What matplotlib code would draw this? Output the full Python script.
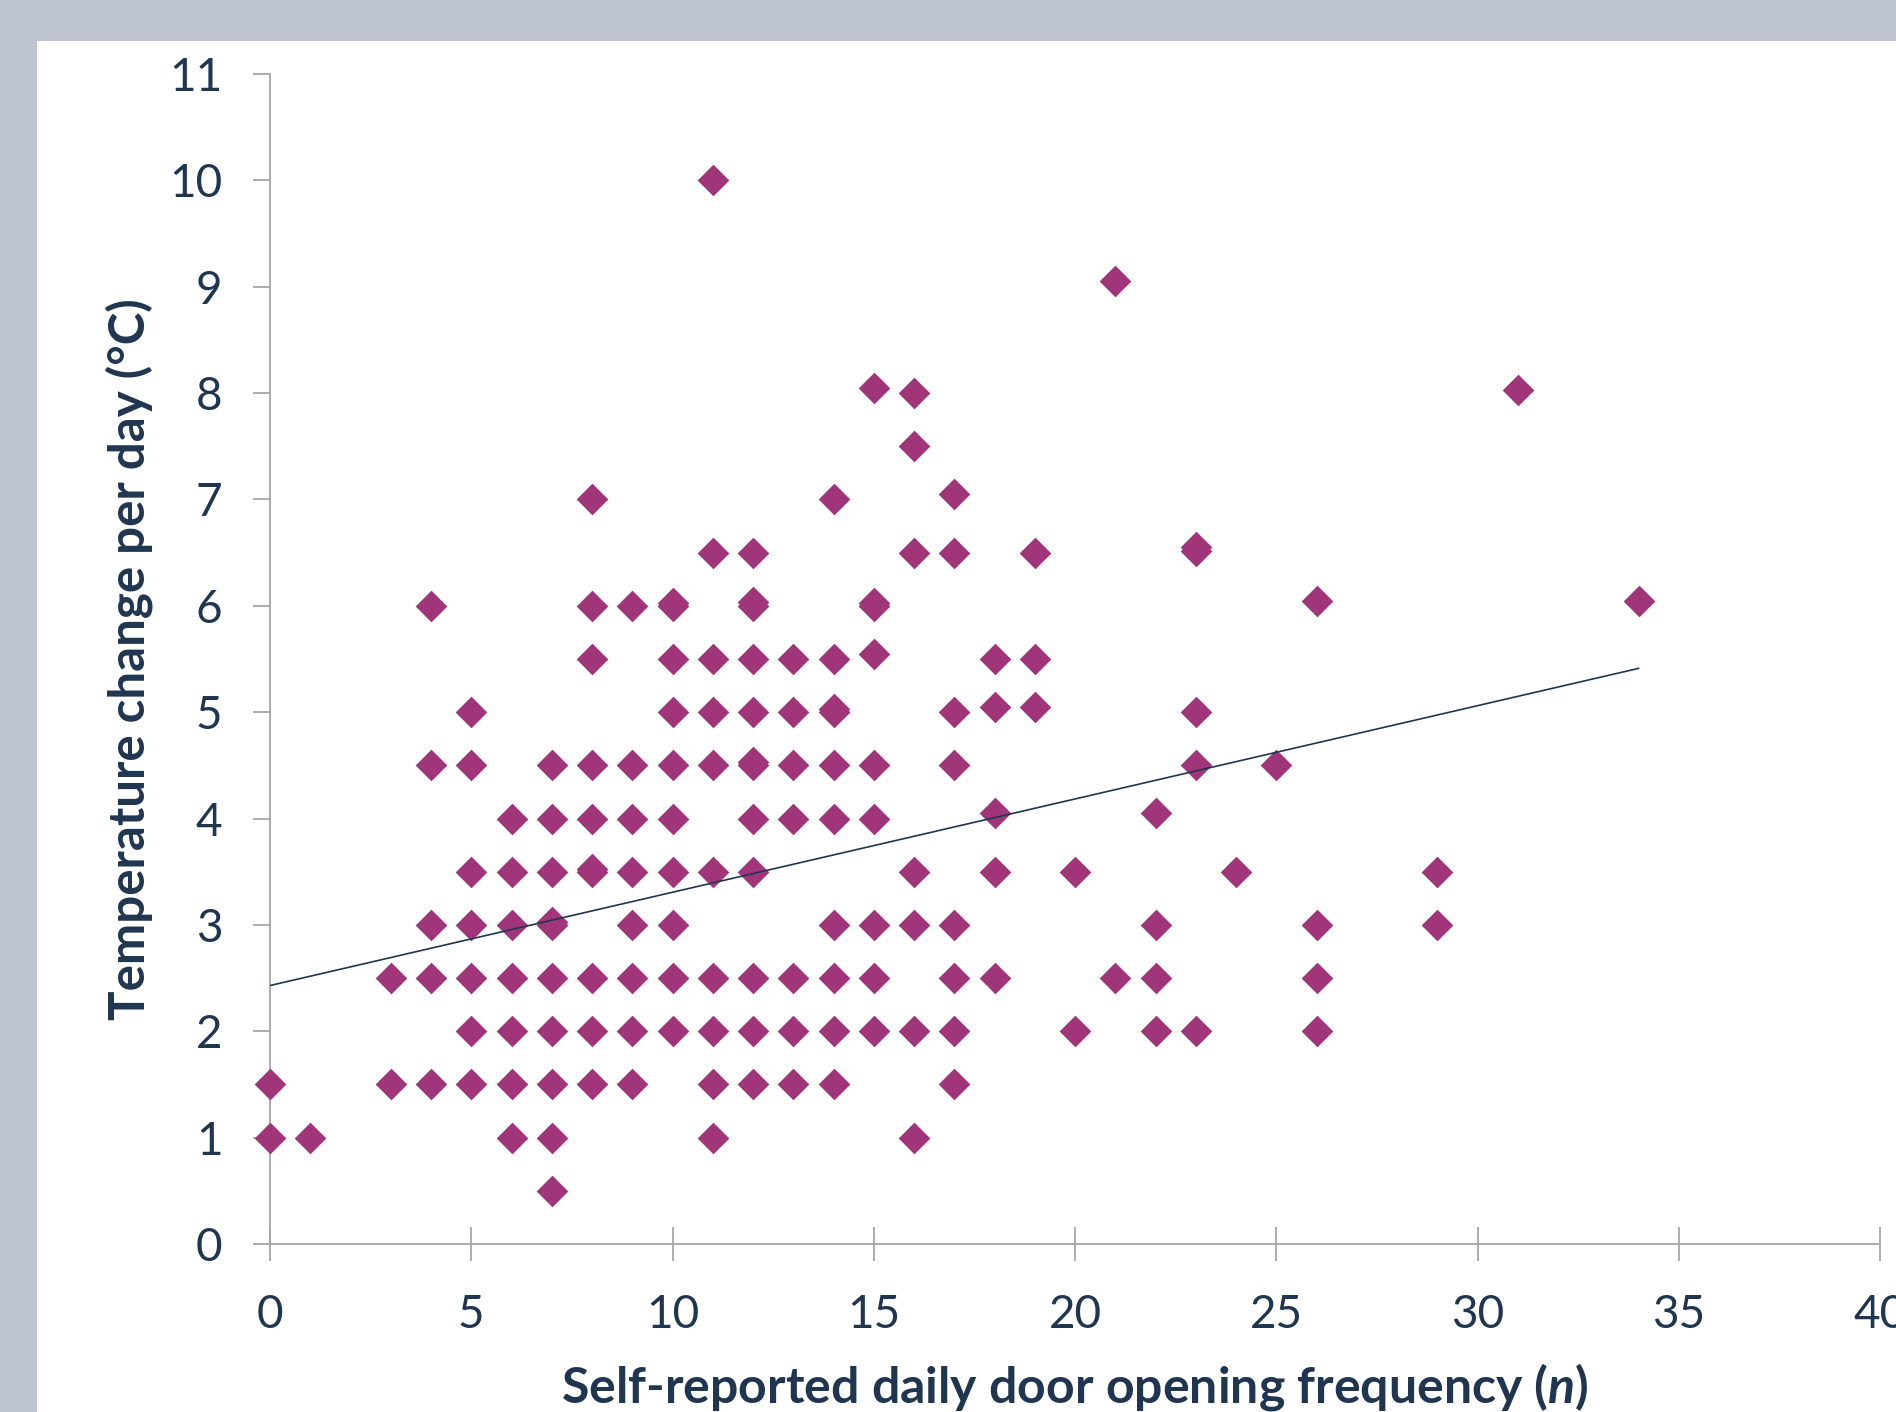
import matplotlib
matplotlib.use("Agg")
import numpy as np
import matplotlib.pyplot as plt
from matplotlib.patches import Rectangle

# door openings per day (x) and temperature change per day (y), one line per x column
freq = ([0, 0] + [1] + [3, 3] + [4] * 5 + [5] * 7 + [6] * 7 + [7] * 10 + [8] * 10 +
        [9] * 8 + [10] * 10 + [11] * 10 + [12] * 12 + [13] * 7 + [14] * 10 + [15] * 9 +
        [16] * 7 + [17] * 8 + [18] * 5 + [19] * 3 + [20] * 2 + [21] * 2 + [22] * 4 +
        [23] * 5 + [24] + [25] + [26] * 4 + [29] * 2 + [31] + [34])
temp_change = [
    1.5, 1.0,
    1.0,
    2.5, 1.5,
    6.0, 4.5, 3.0, 2.5, 1.5,
    5.0, 4.5, 3.5, 3.0, 2.5, 2.0, 1.5,
    4.0, 3.5, 3.0, 2.5, 2.0, 1.5, 1.0,
    4.5, 4.0, 3.5, 3.0, 3.03, 2.5, 2.0, 1.5, 1.0, 0.5,
    7.0, 6.0, 5.5, 4.5, 4.0, 3.5, 3.53, 2.5, 2.0, 1.5,
    6.0, 4.5, 4.0, 3.5, 3.0, 2.5, 2.0, 1.5,
    6.0, 6.03, 5.5, 5.0, 4.5, 4.0, 3.5, 3.0, 2.5, 2.0,
    10.0, 6.5, 5.5, 5.0, 4.5, 3.5, 2.5, 2.0, 1.5, 1.0,
    6.5, 6.0, 6.04, 5.5, 5.0, 4.5, 4.53, 4.0, 3.5, 2.5, 2.0, 1.5,
    5.5, 5.0, 4.5, 4.0, 2.5, 2.0, 1.5,
    7.0, 5.5, 5.0, 5.03, 4.5, 4.0, 3.0, 2.5, 2.0, 1.5,
    8.05, 6.0, 6.03, 5.55, 4.5, 4.0, 3.0, 2.5, 2.0,
    8.0, 7.5, 6.5, 3.5, 3.0, 2.0, 1.0,
    7.05, 6.5, 5.0, 4.5, 3.0, 2.5, 2.0, 1.5,
    5.5, 5.05, 4.05, 3.5, 2.5,
    6.5, 5.5, 5.05,
    3.5, 2.0,
    9.05, 2.5,
    4.05, 3.0, 2.5, 2.0,
    6.52, 6.55, 5.0, 4.5, 2.0,
    3.5,
    4.5,
    6.05, 3.0, 2.5, 2.0,
    3.5, 3.0,
    8.03,
    6.05,
]

# linear trend line as drawn in the source chart
trend_intercept = 2.43
trend_slope = 0.0877

x_ticks = list(range(0, 41, 5))
y_ticks = list(range(0, 12))

navy = "#1F3550"
purple = "#A0357A"
axis_grey = "#A6A6A6"

plt.rcParams["font.family"] = ["Lato", "DejaVu Sans"]
plt.rcParams["mathtext.fontset"] = "custom"
plt.rcParams["mathtext.bfit"] = "Lato:italic:bold"

fig = plt.figure(figsize=(18.96, 14.12), dpi=100)
fig.patch.set_facecolor("#BEC4D0")
fig.add_artist(Rectangle((37 / 1896, 0), 1, 1 - 41 / 1412, transform=fig.transFigure,
                         facecolor="white", edgecolor="none", zorder=0))

ax = fig.add_axes([270 / 1896, 1 - 1244 / 1412, 1610 / 1896, 1170 / 1412])
ax.set_facecolor("none")

ax.scatter(freq, temp_change, marker="D", s=260, color=purple, linewidths=0,
           zorder=3, clip_on=False)

xs = np.array([0, max(freq)])
ax.plot(xs, trend_intercept + trend_slope * xs, color=navy, lw=1.2, zorder=4)

ax.set_xlim(0, 40)
ax.set_ylim(0, 11)
ax.set_xticks(x_ticks)
ax.set_yticks(y_ticks)

for side in ["top", "right"]:
    ax.spines[side].set_visible(False)
for side in ["left", "bottom"]:
    ax.spines[side].set_color(axis_grey)
    ax.spines[side].set_linewidth(1.3)

ax.tick_params(axis="x", direction="inout", length=24.5, width=1.3, color=axis_grey,
               pad=24, labelsize=33, labelcolor=navy)
ax.tick_params(axis="y", direction="out", length=12.2, width=1.3, color=axis_grey,
               pad=22, labelsize=33, labelcolor=navy)

ax.set_xlabel(r"Self-reported daily door opening frequency ($\mathbfit{n}$)",
              fontsize=36, fontweight="bold", color=navy, labelpad=18)
ax.set_ylabel("Temperature change per day (°C)", fontsize=35.5, fontweight="bold",
              color=navy, labelpad=12)

fig.savefig("out.png", dpi=100, facecolor=fig.get_facecolor())
